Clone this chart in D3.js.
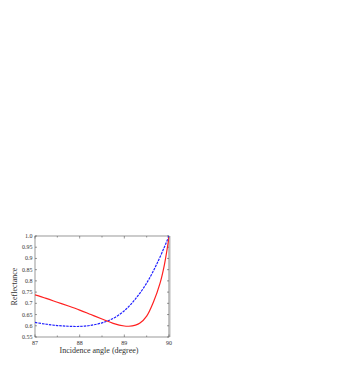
<!DOCTYPE html>
<html>
<head>
<meta charset="utf-8">
<script src="https://cdn.jsdelivr.net/npm/d3@7"></script>
<style>
  body { margin: 0; background: #fff; }
  svg { display: block; }
  text { font-family: "Liberation Serif", "DejaVu Serif", serif; fill: #333; }
</style>
</head>
<body>
<svg width="355" height="371"></svg>
<script>
// values
let angles = [87, 87.25, 87.5, 87.75, 88, 88.25, 88.5, 88.75, 89, 89.1, 89.25, 89.35, 89.5, 89.65, 89.8, 89.9, 90];
let redValues = [0.738, 0.722, 0.705, 0.688, 0.670, 0.650, 0.630, 0.611, 0.599, 0.598, 0.603, 0.612, 0.643, 0.705, 0.790, 0.875, 0.995];
let blueAngles = [87, 87.25, 87.5, 87.75, 88, 88.25, 88.5, 88.75, 89, 89.25, 89.5, 89.75, 90];
let blueValues = [0.615, 0.607, 0.601, 0.598, 0.597, 0.602, 0.613, 0.633, 0.667, 0.720, 0.790, 0.885, 1.0];
let xTicks = [87, 88, 89, 90];
let yTicks = [0.55, 0.6, 0.65, 0.7, 0.75, 0.8, 0.85, 0.9, 0.95, 1.0];

let svg = d3.select("svg");

let x0 = 35, x1 = 169, y0 = 236, y1 = 337;

let x = d3.scaleLinear().domain([87, 90]).range([x0, x1]),
    y = d3.scaleLinear().domain([0.55, 1.0]).range([y1, y0]);

let line = d3.line()
    .curve(d3.curveCatmullRom.alpha(0.5))
    .x(function(d) { return x(d[0]); })
    .y(function(d) { return y(d[1]); });

let plot = svg.append("g");

plot.append("defs").append("clipPath")
    .attr("id", "clip")
  .append("rect")
    .attr("x", x0).attr("y", y0 - 1)
    .attr("width", x1 - x0).attr("height", y1 - y0 + 1);

// frame
plot.append("rect")
    .attr("x", x0).attr("y", y0)
    .attr("width", x1 - x0).attr("height", y1 - y0)
    .attr("fill", "none")
    .attr("stroke", "#555")
    .attr("stroke-width", 0.6);

// gray band on the right border
plot.append("rect")
    .attr("x", x1 - 0.5).attr("y", y0)
    .attr("width", 2).attr("height", y1 - y0)
    .attr("fill", "#bbb");

// inward ticks
let xMinor = d3.range(87, 90.01, 0.5);
let ticks = plot.append("g")
    .attr("stroke", "#555")
    .attr("stroke-width", 0.6);

xMinor.forEach(function(v) {
  let len = xTicks.indexOf(v) >= 0 ? 2.5 : 1.5;
  ticks.append("line").attr("x1", x(v)).attr("x2", x(v)).attr("y1", y1).attr("y2", y1 - len);
  ticks.append("line").attr("x1", x(v)).attr("x2", x(v)).attr("y1", y0).attr("y2", y0 + len);
});

yTicks.forEach(function(v) {
  ticks.append("line").attr("x1", x0).attr("x2", x0 + 2).attr("y1", y(v)).attr("y2", y(v));
  ticks.append("line").attr("x1", x1).attr("x2", x1 - 2).attr("y1", y(v)).attr("y2", y(v));
});

// tick labels
svg.append("g").selectAll("text")
    .data(yTicks)
  .enter().append("text")
    .attr("x", x0 - 2.5)
    .attr("y", function(d) { return y(d) + 2; })
    .attr("text-anchor", "end")
    .attr("font-size", 6)
    .text(function(d) { return d === 1 ? "1.0" : d3.format("")(d); });

svg.append("g").selectAll("text")
    .data(xTicks)
  .enter().append("text")
    .attr("x", function(d) { return x(d); })
    .attr("y", y1 + 7.5)
    .attr("text-anchor", "middle")
    .attr("font-size", 6)
    .text(function(d) { return d; });

// axis titles
svg.append("text")
    .attr("x", (x0 + x1) / 2 - 3)
    .attr("y", 353)
    .attr("text-anchor", "middle")
    .attr("font-size", 8)
    .text("Incidence angle (degree)");

svg.append("text")
    .attr("transform", "translate(17," + ((y0 + y1) / 2) + ") rotate(-90)")
    .attr("text-anchor", "middle")
    .attr("font-size", 8)
    .text("Reflectance");

// curves
let curves = plot.append("g").attr("clip-path", "url(#clip)");

curves.append("path")
    .datum(d3.zip(blueAngles, blueValues))
    .attr("d", line)
    .attr("fill", "none")
    .attr("stroke", "#2020ff")
    .attr("stroke-width", 1.2)
    .attr("stroke-dasharray", "2.5,1");

curves.append("path")
    .datum(d3.zip(angles, redValues))
    .attr("d", line)
    .attr("fill", "none")
    .attr("stroke", "#ff2020")
    .attr("stroke-width", 1.2);
</script>
</body>
</html>
